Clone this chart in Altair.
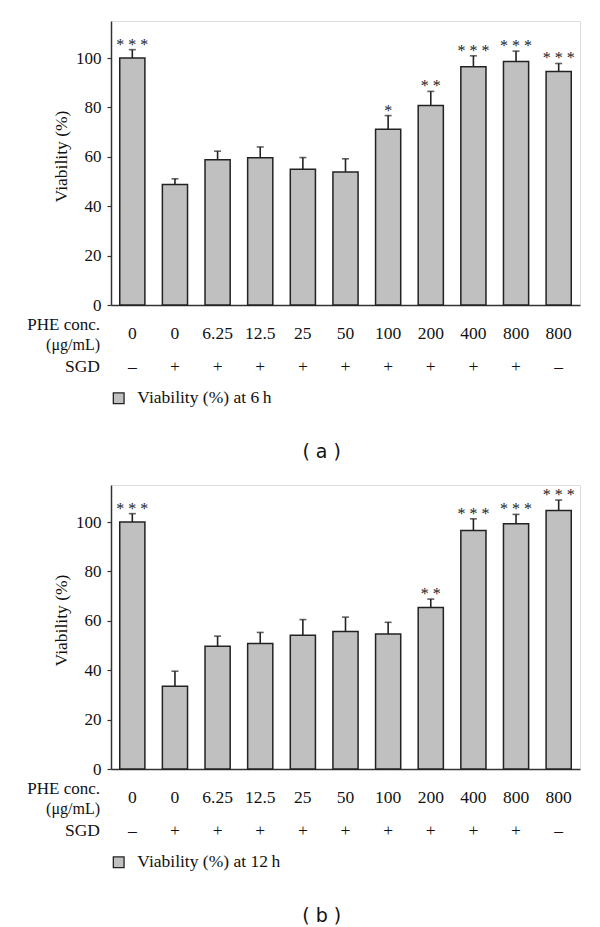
import altair as alt
import pandas as pd

# ---- data ----
conc_labels = ["0", "0", "6.25", "12.5", "25", "50", "100", "200", "400", "800", "800"]
sgd_labels = ["\u2013", "+", "+", "+", "+", "+", "+", "+", "+", "+", "\u2013"]

via_6h = [100.0, 48.8, 58.8, 59.6, 55.0, 53.9, 71.2, 80.8, 96.5, 98.6, 94.6]
err_6h = [103.4, 51.1, 62.3, 64.0, 59.7, 59.2, 76.7, 86.5, 100.9, 102.8, 97.8]
stars_6h = ["* * *", "", "", "", "", "", "*", "* *", "* * *", "* * *", "* * *"]

via_12h = [100.0, 33.5, 49.7, 50.8, 54.2, 55.7, 54.7, 65.4, 96.6, 99.3, 104.7]
err_12h = [103.4, 39.6, 53.8, 55.3, 60.5, 61.5, 59.4, 68.8, 101.3, 103.1, 108.9]
stars_12h = ["* * *", "", "", "", "", "", "", "* *", "* * *", "* * *", "* * *"]

y_ticks = [0, 20, 40, 60, 80, 100]

W, H = 469, 284
SERIF = "Liberation Serif"
FS = 17.5
FILL = "#c0c0c0"
DARK = "#222222"


def panel(vals, errs, stars, legend_text, tag):
    df = pd.DataFrame({
        "idx": list(range(len(vals))),
        "conc": conc_labels,
        "sgd": sgd_labels,
        "v": vals,
        "e": errs,
        "s": stars,
    })
    base = alt.Chart(df)
    x = alt.X("idx:O", axis=alt.Axis(labels=False, ticks=False, title=None,
                                     domainColor="#333", domainWidth=1.5),
              scale=alt.Scale(paddingInner=0.41, paddingOuter=0.205))
    y = alt.Y("v:Q", scale=alt.Scale(domain=[0, 115], nice=False),
              axis=alt.Axis(values=y_ticks, title="Viability (%)", grid=False,
                            tickSize=4, tickColor="#333", tickWidth=1.2,
                            domainColor="#333", domainWidth=1.5,
                            labelPadding=6, labelFont=SERIF, labelFontSize=17,
                            labelColor="#111", titleFont=SERIF, titleFontSize=FS,
                            titleFontWeight="normal", titleColor="#111",
                            titleX=-50, titleY=135, titleBaseline="middle"))
    rule = base.mark_rule(color=DARK, strokeWidth=1.6).encode(x=x, y=y, y2="e:Q")
    cap = base.mark_tick(color=DARK, thickness=1.6, size=7, orient="horizontal").encode(
        x=x, y=alt.Y("e:Q"))
    bars = base.mark_bar(fill=FILL, stroke=DARK, strokeWidth=1.5).encode(x=x, y=y)
    st = base.mark_text(font=SERIF, fontSize=16, baseline="alphabetic", color="#222").encode(
        x=x, y=alt.Y("e:Q"), text="s:N")
    conc = base.mark_text(font=SERIF, fontSize=FS, baseline="middle", color="#111").encode(
        x=x, y=alt.value(H + 28.5), text="conc:N")
    sgd = base.mark_text(font=SERIF, fontSize=FS, baseline="middle", color="#111").encode(
        x=x, y=alt.value(H + 62), text="sgd:N")

    one = pd.DataFrame({"k": [0]})
    lab1 = alt.Chart(one).mark_text(text="PHE conc.", font=SERIF, fontSize=17, align="right",
                                   baseline="middle", color="#111").encode(
        x=alt.value(-11), y=alt.value(H + 20))
    lab2 = alt.Chart(one).mark_text(text="(\u03bcg/mL)", font=SERIF, fontSize=16, align="right",
                                   baseline="middle", color="#111").encode(
        x=alt.value(-11), y=alt.value(H + 39.5))
    lab3 = alt.Chart(one).mark_text(text="SGD", font=SERIF, fontSize=FS, align="right",
                                   baseline="middle", color="#111").encode(
        x=alt.value(-11), y=alt.value(H + 62))
    sq = alt.Chart(one).mark_square(size=115, fill=FILL, stroke=DARK, strokeWidth=1.3,
                                    opacity=1).encode(
        x=alt.value(7.7), y=alt.value(H + 93.3))
    leg = alt.Chart(one).mark_text(text=legend_text, font=SERIF, fontSize=FS, align="left",
                                   baseline="middle", color="#111").encode(
        x=alt.value(26.3), y=alt.value(H + 93.3))
    tg = alt.Chart(one).mark_text(text=tag, font="DejaVu Sans", fontSize=19, align="center",
                                  baseline="middle", color="#111").encode(
        x=alt.value(210.7), y=alt.value(H + 146.5))

    return alt.layer(rule, cap, bars, st, conc, sgd, lab1, lab2, lab3, sq, leg, tg).properties(
        width=W, height=H)


pa = panel(via_6h, err_6h, stars_6h, "Viability (%) at 6\u2009h", "( a )")
pb = panel(via_12h, err_12h, stars_12h, "Viability (%) at 12\u2009h", "( b )")

chart = alt.vconcat(pa, pb, spacing=22).properties(
    padding={"left": 18, "top": 12, "right": 5, "bottom": 5}
).configure_view(stroke=None).configure(font=SERIF)

chart.save("out.html", embed_options={"renderer": "svg", "actions": False})
